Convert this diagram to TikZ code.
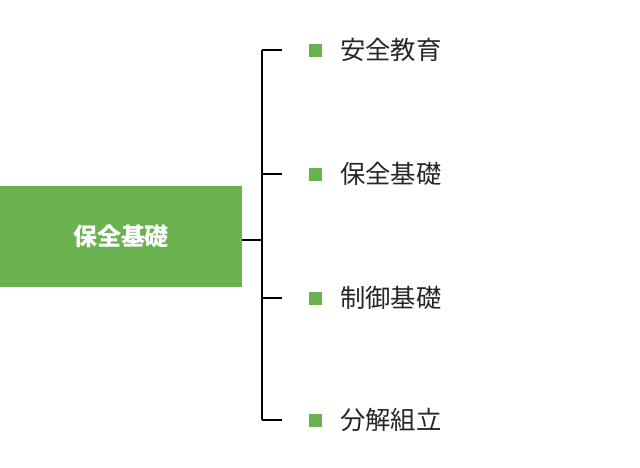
\documentclass[tikz,border=0pt]{standalone}
\usepackage{fontspec}
\newfontfamily\jpfont{Noto Sans CJK JP}
\usetikzlibrary{positioning}
\definecolor{leafgreen}{HTML}{6AB150}
\tikzset{
  branch/.style={draw=black, line width=1.2pt},
  bullet/.style={fill=leafgreen, minimum size=13*0.75pt, inner sep=0pt},
  leaf/.style={anchor=west, inner sep=0pt, font=\jpfont\fontsize{19}{22}\selectfont, text=black!85}
}
\begin{document}
\begin{tikzpicture}[x=0.75pt,y=-0.75pt]
  \useasboundingbox (0,0) rectangle (640,468);
  \node[fill=leafgreen, minimum width=242*0.75pt, minimum height=101*0.75pt, inner sep=0pt,
        font=\jpfont\bfseries\fontsize{18}{20}\selectfont, text=white] (root) at (121,236.5) {保全基礎};
  \coordinate (hub) at (262,240);
  \coordinate (top) at (262,50);
  \coordinate (bot) at (262,420);
  \draw[branch] (root.east |- hub) -- (hub);
  \draw[branch] (top) -- (bot);
  \foreach \y/\name/\txt in {50/a/安全教育,174/b/保全基礎,298/c/制御基礎,420/d/分解組立}{
    \coordinate (s\name) at (262,\y);
    \coordinate (e\name) at (282,\y);
    \draw[branch] (s\name) -- (e\name);
    \node[bullet] (m\name) at (315,\y) {};
    \node[leaf] (t\name) at (340,\y) {\txt};
  }
\end{tikzpicture}
\end{document}
